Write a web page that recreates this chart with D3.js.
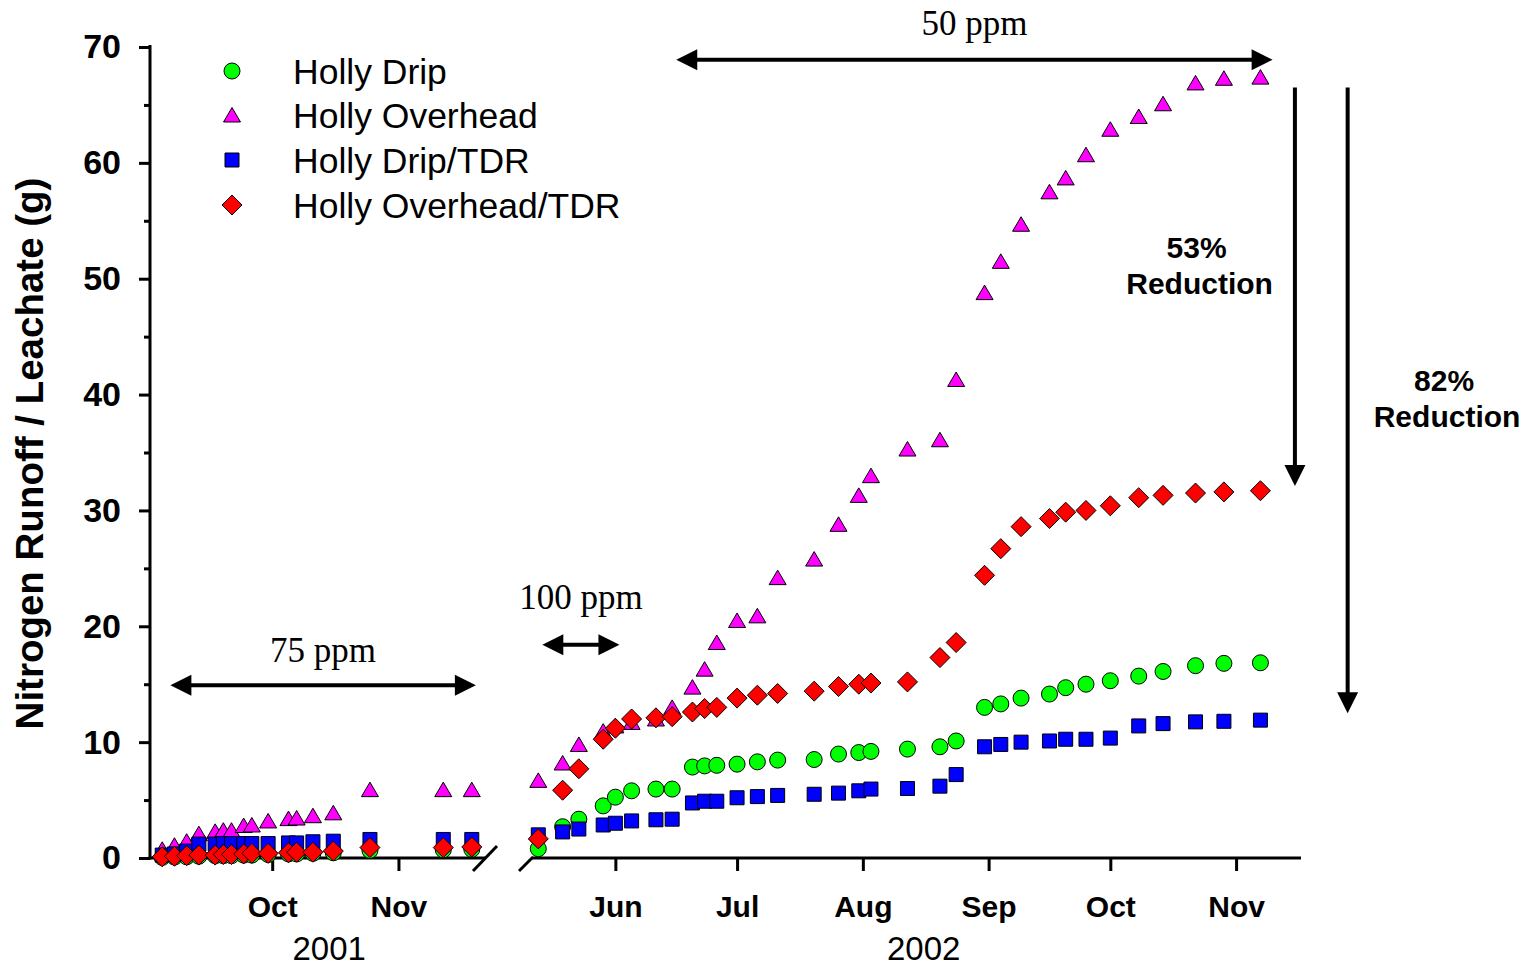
<!DOCTYPE html>
<html><head><meta charset="utf-8">
<script src="https://cdn.jsdelivr.net/npm/d3@7"></script>
<style>body{margin:0;background:#fff;} svg{display:block;}</style>
</head><body>
<svg id="chart" width="1537" height="967"></svg>
<script>
// ---------------- DATA ----------------
const seriesNames  = ["Holly Drip", "Holly Overhead", "Holly Drip/TDR", "Holly Overhead/TDR"];
const seriesColors = ["#00ff00", "#ff00ff", "#0000ff", "#ff0000"];
const seriesShapes = ["circle", "triangle", "square", "diamond"];

const dates2001 = ["2001-09-04","2001-09-07","2001-09-10","2001-09-13","2001-09-17","2001-09-19","2001-09-21",
  "2001-09-24","2001-09-26","2001-09-30","2001-10-05","2001-10-07","2001-10-11","2001-10-16","2001-10-25",
  "2001-11-12","2001-11-19"];
const drip2001         = [0.05,0.08,0.1,0.15,0.2,0.2,0.2,0.25,0.25,0.3,0.35,0.35,0.4,0.45,0.65,0.7,0.75];
const overhead2001     = [0.75,1.1,1.45,2.1,2.3,2.4,2.4,2.8,2.85,3.2,3.4,3.45,3.65,3.9,5.9,5.9,5.9];
const dripTDR2001      = [0.25,0.35,0.6,1.2,1.2,1.25,1.25,1.25,1.25,1.25,1.3,1.3,1.4,1.45,1.6,1.6,1.6];
const overheadTDR2001  = [0.1,0.15,0.2,0.25,0.25,0.3,0.3,0.35,0.4,0.4,0.45,0.5,0.5,0.6,0.9,0.9,0.95];

const dates2002 = ["2002-05-13","2002-05-19","2002-05-23","2002-05-29","2002-06-01","2002-06-05","2002-06-11",
  "2002-06-15","2002-06-20","2002-06-23","2002-06-26","2002-07-01","2002-07-06","2002-07-11","2002-07-20",
  "2002-07-26","2002-07-31","2002-08-03","2002-08-12","2002-08-20","2002-08-24","2002-08-31","2002-09-04",
  "2002-09-09","2002-09-16","2002-09-20","2002-09-25","2002-10-01","2002-10-08","2002-10-14","2002-10-22",
  "2002-10-29","2002-11-07"];
const drip2002        = [0.8,2.7,3.35,4.5,5.25,5.8,5.95,5.95,7.85,7.95,8.0,8.1,8.3,8.45,8.5,8.97,9.1,9.2,9.4,9.6,
  10.1,13.0,13.3,13.8,14.15,14.7,15.0,15.3,15.7,16.1,16.6,16.8,16.85];
const overhead2002    = [6.7,8.2,9.8,10.95,11.4,11.7,12.0,13.0,14.75,16.3,18.6,20.5,20.9,24.2,25.8,28.8,31.3,33.0,
  35.3,36.1,41.3,48.8,51.5,54.7,57.5,58.7,60.7,62.9,64.0,65.1,66.9,67.3,67.4];
const dripTDR2002     = [2.0,2.25,2.5,2.85,3.0,3.2,3.3,3.35,4.75,4.9,4.9,5.2,5.3,5.4,5.5,5.6,5.8,5.95,6.0,6.2,
  7.2,9.6,9.8,10.0,10.1,10.25,10.25,10.35,11.4,11.6,11.75,11.8,11.9];
const overheadTDR2002 = [1.65,5.85,7.7,10.25,11.2,12.0,12.1,12.2,12.6,12.9,13.0,13.8,14.05,14.2,14.4,14.8,15.0,
  15.1,15.2,17.3,18.6,24.4,26.7,28.6,29.3,29.85,30.0,30.4,31.1,31.3,31.5,31.6,31.7];

const yMajorTicks = [0,10,20,30,40,50,60,70];
const yMinorTicks = [5,15,25,35,45,55,65];
const monthTicks2001 = ["2001-10-01","2001-11-01"];
const monthTicks2002 = ["2002-06-01","2002-07-01","2002-08-01","2002-09-01","2002-10-01","2002-11-01"];
const yearLabels = ["2001","2002"];
const yTitle = "Nitrogen Runoff / Leachate (g)";

// annotations (in data units)
const ppmLabels = [
  {text:"75 ppm",  seg:0, from:"2001-09-06", to:"2001-11-20", y:14.9, ty:16.9},
  {text:"100 ppm", seg:1, from:"2002-05-14", to:"2002-06-02", y:18.4, ty:21.5},
  {text:"50 ppm",  seg:1, from:"2002-06-16", to:"2002-11-10", y:68.9, ty:71.0}
];
const reductions = [
  {pct:"53%", date:"2002-11-15 12", from:66.5, to:32.1, labelDate:"2002-10-23 00", labelY:51.8},
  {pct:"82%", date:"2002-11-28 12", from:66.5, to:12.5, labelDate:"2002-12-23 00", labelY:40.3}
];

// ---------------- CHART ----------------
const parse = d3.timeParse("%Y-%m-%d");
const parseH = d3.timeParse("%Y-%m-%d %H");
const svg = d3.select("#chart");
const SANS = "'Liberation Sans', Arial, Helvetica, sans-serif";
const SERIF = "'Liberation Serif', 'Times New Roman', serif";

const y  = d3.scaleLinear().domain([0, 70]).range([858, 47]);
const x1 = d3.scaleTime().domain([parse("2001-09-01"), parse("2001-11-22")]).range([150, 484]);
const x2 = d3.scaleTime().domain([parse("2002-05-08"), parse("2002-11-17")]).range([518, 1301]);
const xs = [x1, x2];

// axes
function styleAxis(g, fs) {
  g.selectAll("path.domain").remove();
  g.selectAll(".tick line").attr("stroke", "#000").attr("stroke-width", 3);
  g.selectAll(".tick text").attr("font-family", SANS).attr("font-weight", "bold")
    .attr("font-size", fs).attr("fill", "#000");
}
const fmt = d3.timeFormat("%b");
[[x1, monthTicks2001], [x2, monthTicks2002]].forEach(([sc, ticks]) => {
  svg.append("g").attr("transform", "translate(0," + y(0) + ")")
    .call(d3.axisBottom(sc).tickValues(ticks.map(parse)).tickFormat(fmt).tickSize(13).tickPadding(25).tickSizeOuter(0))
    .call(g => styleAxis(g, 30));
});
svg.append("g").attr("transform", "translate(150,0)")
  .call(d3.axisLeft(y).tickValues(yMajorTicks).tickFormat(d3.format("d")).tickSize(11).tickPadding(18).tickSizeOuter(0))
  .call(g => styleAxis(g, 34));
svg.append("g").attr("transform", "translate(150,0)")
  .call(d3.axisLeft(y).tickValues(yMinorTicks).tickFormat("").tickSize(6).tickSizeOuter(0))
  .call(g => styleAxis(g, 34));

// axis lines
const lineStyle = sel => sel.attr("stroke", "#000").attr("stroke-width", 3).attr("fill", "none");
svg.append("line").attr("x1", 150).attr("x2", 150).attr("y1", y(70) - 2).attr("y2", y(0) + 1.5).call(lineStyle);
svg.append("line").attr("x1", 148.5).attr("x2", x1.range()[1] + 1).attr("y1", y(0)).attr("y2", y(0)).call(lineStyle);
svg.append("line").attr("x1", x2.range()[0] + 14).attr("x2", x2.range()[1]).attr("y1", y(0)).attr("y2", y(0)).call(lineStyle);
// break marks
svg.append("line").attr("x1", x1.range()[1] - 11).attr("y1", y(0) + 13).attr("x2", x1.range()[1] + 13).attr("y2", y(0) - 12).call(lineStyle);
svg.append("line").attr("x1", x2.range()[0] + 1).attr("y1", y(0) + 13).attr("x2", x2.range()[0] + 15).attr("y2", y(0) - 1).call(lineStyle);

// year labels
const yearCenters = [x1(parse("2001-10-15")), x2(parse("2002-08-16"))];
yearLabels.forEach((t, i) => {
  svg.append("text").attr("x", yearCenters[i]).attr("y", 960).attr("text-anchor", "middle")
    .attr("font-family", SANS).attr("font-size", 33).attr("fill", "#000").text(t);
});

// y title
svg.append("text").attr("transform", "translate(43," + ((y(0) + y(70)) / 2 + 1) + ") rotate(-90)")
  .attr("text-anchor", "middle").attr("font-family", SANS).attr("font-weight", "bold")
  .attr("font-size", 38.5).attr("fill", "#000").text(yTitle);

// symbols
function shapePath(shape) {
  switch (shape) {
    case "circle": return d3.symbol(d3.symbolCircle, Math.PI * 8 * 8)();
    case "square": return "M-7,-7H7V7H-7Z";
    case "triangle": return "M0,-7.5L8.5,7L-8.5,7Z";
    case "diamond": return "M0,-10L10,0L0,10L-10,0Z";
  }
}
const series2001 = [drip2001, overhead2001, dripTDR2001, overheadTDR2001];
const series2002 = [drip2002, overhead2002, dripTDR2002, overheadTDR2002];
seriesNames.forEach((name, i) => {
  const pts = dates2001.map((d, j) => ({x: x1(parse(d)), v: series2001[i][j]}))
    .concat(dates2002.map((d, j) => ({x: x2(parse(d)), v: series2002[i][j]})));
  svg.append("g").selectAll("path").data(pts).join("path")
    .attr("d", shapePath(seriesShapes[i]))
    .attr("transform", p => "translate(" + p.x + "," + y(p.v) + ")")
    .attr("fill", seriesColors[i]).attr("stroke", "#000").attr("stroke-width", 1);
});

// legend
const legendRows = [71, 115, 160, 205];
seriesNames.forEach((name, i) => {
  svg.append("path").attr("d", shapePath(seriesShapes[i]))
    .attr("transform", "translate(232," + legendRows[i] + ")")
    .attr("fill", seriesColors[i]).attr("stroke", "#000").attr("stroke-width", 1);
  svg.append("text").attr("x", 293).attr("y", legendRows[i] + 12.5)
    .attr("font-family", SANS).attr("font-size", 35.5).attr("fill", "#000").text(name);
});

// arrows
function arrowHead(tx, ty, dx, dy) {
  const len = 21, half = 10.5;
  const bx = tx - dx * len, by = ty - dy * len;
  const px = -dy, py = dx;
  svg.append("path").attr("d", "M" + tx + "," + ty + "L" + (bx + px * half) + "," + (by + py * half) +
    "L" + (bx - px * half) + "," + (by - py * half) + "Z").attr("fill", "#000");
}
ppmLabels.forEach(a => {
  const sc = xs[a.seg];
  const xa = sc(parse(a.from)), xb = sc(parse(a.to)), yy = y(a.y);
  svg.append("line").attr("x1", xa + 15).attr("x2", xb - 15).attr("y1", yy).attr("y2", yy)
    .attr("stroke", "#000").attr("stroke-width", 4);
  arrowHead(xa, yy, -1, 0);
  arrowHead(xb, yy, 1, 0);
  svg.append("text").attr("x", (xa + xb) / 2).attr("y", y(a.ty)).attr("text-anchor", "middle")
    .attr("font-family", SERIF).attr("font-size", 35).attr("fill", "#000").text(a.text);
});
reductions.forEach(r => {
  const xx = x2(parseH(r.date));
  svg.append("line").attr("x1", xx).attr("x2", xx).attr("y1", y(r.from)).attr("y2", y(r.to) - 15)
    .attr("stroke", "#000").attr("stroke-width", 4);
  arrowHead(xx, y(r.to), 0, 1);
  const lx = x2(parseH(r.labelDate));
  const t = svg.append("text").attr("x", lx).attr("y", y(r.labelY)).attr("text-anchor", "middle")
    .attr("font-family", SANS).attr("font-weight", "bold").attr("font-size", 30).attr("fill", "#000");
  t.append("tspan").attr("x", lx - 3).attr("dy", 0).text(r.pct);
  t.append("tspan").attr("x", lx).attr("dy", 36).text("Reduction");
});
</script>
</body></html>
